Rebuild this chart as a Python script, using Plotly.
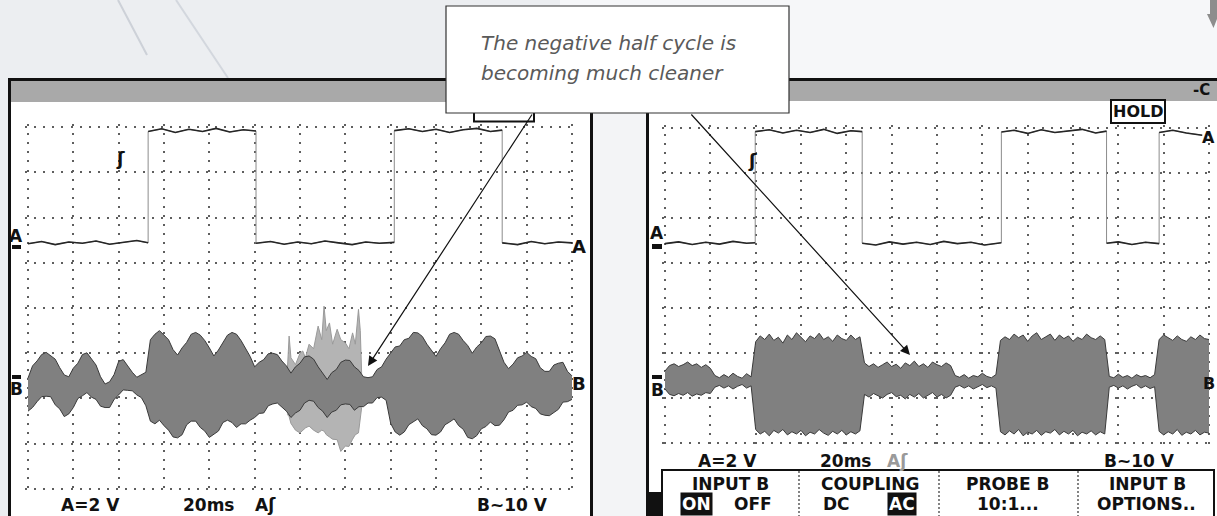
import plotly.graph_objects as go

W, H = 1217, 516

# ---------------- data (screen divisions) ----------------
b_time = [0.0, 0.1, 0.2, 0.3, 0.4, 0.5, 0.6, 0.7, 0.8, 0.9,
          1.0, 1.1, 1.2, 1.3, 1.4, 1.5, 1.6, 1.7, 1.8, 1.9,
          2.0, 2.1, 2.2, 2.3, 2.4, 2.5, 2.6, 2.7, 2.8, 2.9,
          3.0, 3.1, 3.2, 3.3, 3.4, 3.5, 3.6, 3.7, 3.8, 3.9,
          4.0, 4.1, 4.2, 4.3, 4.4, 4.5, 4.6, 4.7, 4.8, 4.9,
          5.0, 5.1, 5.2, 5.3, 5.4, 5.5, 5.6, 5.7, 5.8, 5.9,
          6.0, 6.1, 6.2, 6.3, 6.4, 6.5, 6.6, 6.7, 6.8, 6.9,
          7.0, 7.1, 7.2, 7.3, 7.4, 7.5, 7.6, 7.7, 7.8, 7.9,
          8.0, 8.1, 8.2, 8.3, 8.4, 8.5, 8.6, 8.7, 8.8, 8.9,
          9.0, 9.1, 9.2, 9.3, 9.4, 9.5, 9.6, 9.7, 9.8, 9.9,
          10.0, 10.1, 10.2, 10.3, 10.4, 10.5, 10.6, 10.7, 10.8, 10.9,
          11.0, 11.1, 11.2, 11.3, 11.4, 11.5, 11.6, 11.7, 11.8, 11.9,
          12.0]

left_b_upper = [2.45, 2.72, 2.83, 2.97, 3.02, 2.95, 2.87, 2.68, 2.52, 2.48,
                2.67, 2.78, 2.97, 3.01, 2.88, 2.74, 2.48, 2.32, 2.37, 2.53,
                2.82, 2.86, 2.72, 2.58, 2.47, 2.52, 2.58, 3.30, 3.42, 3.50,
                3.40, 3.30, 3.08, 2.96, 3.12, 3.24, 3.42, 3.46, 3.40, 3.28,
                3.12, 2.94, 3.07, 3.23, 3.40, 3.46, 3.42, 3.28, 3.12, 2.93,
                2.70, 2.80, 2.86, 2.99, 3.00, 2.97, 2.83, 2.72, 2.56, 2.70,
                2.78, 2.92, 2.94, 2.87, 2.70, 2.57, 2.42, 2.57, 2.64, 2.80,
                2.85, 2.84, 2.70, 2.62, 2.48, 2.46, 2.48, 2.64, 2.70, 2.87,
                3.00, 3.14, 3.16, 3.30, 3.33, 3.46, 3.45, 3.37, 3.20, 3.07,
                2.93, 3.10, 3.23, 3.42, 3.46, 3.42, 3.28, 3.17, 3.00, 3.14,
                3.23, 3.37, 3.38, 3.32, 3.08, 2.80, 2.66, 2.76, 2.90, 2.94,
                3.02, 2.93, 2.88, 2.68, 2.60, 2.60, 2.74, 2.78, 2.80, 2.60,
                2.50]
left_b_lower = [1.72, 1.80, 1.93, 2.04, 2.05, 2.04, 1.86, 1.77, 1.60, 1.66,
                1.80, 2.00, 2.06, 2.13, 2.03, 1.98, 1.83, 1.80, 1.80, 1.98,
                2.08, 2.19, 2.18, 2.17, 2.08, 2.02, 1.84, 1.50, 1.44, 1.52,
                1.40, 1.30, 1.15, 1.13, 1.20, 1.42, 1.50, 1.50, 1.36, 1.28,
                1.14, 1.22, 1.28, 1.47, 1.52, 1.47, 1.36, 1.44, 1.44, 1.52,
                1.58, 1.67, 1.68, 1.84, 1.88, 1.90, 1.80, 1.72, 1.58, 1.68,
                1.74, 1.90, 1.96, 1.94, 1.80, 1.72, 1.58, 1.70, 1.74, 1.86,
                1.88, 1.87, 1.74, 1.82, 1.82, 1.90, 1.90, 2.02, 2.03, 1.96,
                1.45, 1.26, 1.19, 1.26, 1.42, 1.48, 1.55, 1.40, 1.33, 1.20,
                1.19, 1.26, 1.42, 1.48, 1.55, 1.40, 1.32, 1.14, 1.11, 1.18,
                1.33, 1.38, 1.48, 1.40, 1.41, 1.53, 1.70, 1.74, 1.85, 1.86,
                1.92, 1.82, 1.78, 1.66, 1.63, 1.62, 1.70, 1.76, 1.92, 1.93,
                1.98]

# lighter over-written sweep with spikes (left screen)
left_spike_time = [5.72, 5.76, 5.80, 5.90, 6.00, 6.06, 6.12, 6.20, 6.30, 6.40, 6.48, 6.53,
                   6.58, 6.65, 6.72, 6.82, 6.90, 7.00, 7.08, 7.16, 7.22, 7.29, 7.33, 7.36]
left_spike_upper = [2.60, 3.38, 2.90, 2.75, 3.00, 3.05, 2.90, 3.20, 3.10, 3.60, 3.30, 4.04,
                    3.50, 3.67, 3.20, 3.53, 3.30, 3.23, 3.10, 3.45, 3.20, 3.97, 3.50, 2.55]
left_spike_lower = [1.65, 1.60, 1.45, 1.30, 1.24, 1.30, 1.35, 1.39, 1.30, 1.24, 1.30, 1.28,
                    1.20, 1.15, 1.10, 1.09, 0.83, 0.95, 0.94, 1.10, 1.20, 1.24, 1.50, 1.80]

left_a_time = [0.0, 0.3, 0.6, 0.9, 1.2, 1.5, 1.8, 2.1, 2.4, 2.65,
               2.65, 2.95, 3.25, 3.55, 3.85, 4.15, 4.45, 4.75, 5.03,
               5.03, 5.35, 5.65, 5.95, 6.25, 6.55, 6.85, 7.15, 7.45, 7.75, 8.08,
               8.08, 8.4, 8.7, 9.0, 9.3, 9.6, 9.9, 10.2, 10.46,
               10.46, 10.8, 11.1, 11.4, 11.7, 12.0]
left_a_level = [5.42, 5.47, 5.40, 5.46, 5.43, 5.48, 5.41, 5.45, 5.49, 5.44,
                7.90, 7.96, 7.88, 7.95, 7.90, 7.97, 7.89, 7.94, 7.91,
                5.43, 5.47, 5.41, 5.46, 5.42, 5.48, 5.44, 5.40, 5.46, 5.43, 5.45,
                7.92, 7.96, 7.90, 7.95, 7.88, 7.94, 7.97, 7.90, 7.93,
                5.44, 5.40, 5.47, 5.42, 5.46, 5.44]

right_b_upper = [2.60, 2.72, 2.76, 2.70, 2.74, 2.80, 2.72, 2.76, 2.68, 2.74,
                 2.66, 2.50, 2.45, 2.52, 2.46, 2.55, 2.48, 2.44, 2.54, 2.47,
                 3.25, 3.38, 3.30, 3.42, 3.28, 3.35, 3.22, 3.40, 3.30, 3.45,
                 3.35, 3.25, 3.38, 3.32, 3.44, 3.30, 3.36, 3.26, 3.40, 3.32,
                 3.28, 3.40, 3.30, 3.36, 2.78, 2.70, 2.76, 2.68, 2.74, 2.80,
                 2.70, 2.75, 2.66, 2.78, 2.72, 2.82, 2.70, 2.76, 2.68, 2.80,
                 2.74, 2.70, 2.78, 2.72, 2.50, 2.46, 2.52, 2.44, 2.50, 2.47,
                 2.55, 2.48, 2.45, 2.52, 3.28, 3.36, 3.30, 3.42, 3.34, 3.40,
                 3.26, 3.38, 3.45, 3.30, 3.36, 3.42, 3.28, 3.40, 3.32, 3.38,
                 3.26, 3.35, 3.30, 3.42, 3.34, 3.30, 3.38, 3.30, 2.48, 2.45,
                 2.53, 2.46, 2.50, 2.44, 2.52, 2.47, 2.50, 2.45, 2.52, 3.30,
                 3.40, 3.34, 3.28, 3.38, 3.30, 3.26, 3.36, 3.30, 3.40, 3.32,
                 3.30]
right_b_lower = [2.20, 2.08, 2.05, 2.10, 2.06, 2.12, 2.04, 2.09, 2.06, 2.12,
                 2.10, 2.24, 2.28, 2.22, 2.27, 2.20, 2.26, 2.30, 2.22, 2.27,
                 1.30, 1.20, 1.26, 1.16, 1.28, 1.22, 1.30, 1.18, 1.25, 1.20,
                 1.28, 1.16, 1.24, 1.20, 1.30, 1.22, 1.17, 1.26, 1.20, 1.28,
                 1.18, 1.25, 1.20, 1.27, 2.08, 2.02, 2.10, 2.05, 2.00, 2.08,
                 2.12, 2.03, 2.06, 1.98, 2.08, 2.02, 2.10, 2.00, 2.06, 2.12,
                 2.02, 2.08, 2.00, 2.06, 2.24, 2.28, 2.22, 2.27, 2.20, 2.25,
                 2.30, 2.23, 2.27, 2.22, 1.25, 1.18, 1.27, 1.20, 1.30, 1.16,
                 1.24, 1.20, 1.28, 1.17, 1.25, 1.22, 1.30, 1.18, 1.26, 1.20,
                 1.28, 1.16, 1.24, 1.20, 1.27, 1.18, 1.25, 1.20, 2.24, 2.28,
                 2.22, 2.27, 2.20, 2.26, 2.30, 2.22, 2.27, 2.21, 2.25, 1.26,
                 1.18, 1.25, 1.20, 1.30, 1.17, 1.24, 1.20, 1.28, 1.18, 1.24,
                 1.22]

right_a_time = [0.0, 0.3, 0.6, 0.9, 1.2, 1.5, 1.8, 1.99,
                1.99, 2.3, 2.6, 2.9, 3.2, 3.5, 3.8, 4.1, 4.35,
                4.35, 4.65, 4.95, 5.25, 5.55, 5.85, 6.15, 6.45, 6.75, 7.05, 7.42,
                7.42, 7.7, 8.0, 8.3, 8.6, 8.9, 9.2, 9.5, 9.74,
                9.74, 10.0, 10.3, 10.6, 10.9,
                10.9, 11.2, 11.5, 11.85]
right_a_level = [5.43, 5.47, 5.41, 5.46, 5.42, 5.48, 5.44, 5.45,
                 7.92, 7.96, 7.89, 7.95, 7.90, 7.97, 7.88, 7.94, 7.92,
                 5.44, 5.40, 5.47, 5.42, 5.46, 5.41, 5.48, 5.43, 5.46, 5.40, 5.45,
                 7.91, 7.95, 7.88, 7.96, 7.90, 7.94, 7.97, 7.89, 7.93,
                 5.44, 5.47, 5.41, 5.46, 5.43,
                 7.90, 7.95, 7.89, 7.84]

bottom_labels = ["A=2 V", "20ms", "A\u0283", "B~10 V"]
menu_top = ["INPUT B", "COUPLING", "PROBE B", "INPUT B"]
menu_bottom = ["OFF", "DC", "10:1...", "OPTIONS.."]
menu_inverted = ["ON", "AC"]
callout_lines = ["The negative half cycle is", "becoming much cleaner"]

# ---------------- helpers ----------------
def px(x):
    return x / W

def py(y):
    return 1 - y / H

MONO = "DejaVu Sans"
BAND_FILL = "#808080"
BAND_EDGE = "#3a3a3a"

def split_levels(t, v):
    xs, ys = [], []
    for i in range(len(t)):
        xs.append(t[i]); ys.append(v[i])
        if i + 1 < len(t) and t[i + 1] == t[i]:
            xs.append(None); ys.append(None)
    return xs, ys

fig = go.Figure()

def band(t, lo, hi, xa, ya, fill, edge):
    fig.add_trace(go.Scatter(x=t, y=lo, mode="lines", line=dict(color=edge, width=1),
                             xaxis=xa, yaxis=ya, showlegend=False, hoverinfo="skip"))
    fig.add_trace(go.Scatter(x=t, y=hi, mode="lines", line=dict(color=edge, width=1),
                             fill="tonexty", fillcolor=fill,
                             xaxis=xa, yaxis=ya, showlegend=False, hoverinfo="skip"))

def square(t, v, xa, ya):
    fig.add_trace(go.Scatter(x=t, y=v, mode="lines", line=dict(color="#8c8c8c", width=1),
                             xaxis=xa, yaxis=ya, showlegend=False, hoverinfo="skip"))
    sx, sy = split_levels(t, v)
    fig.add_trace(go.Scatter(x=sx, y=sy, mode="lines", line=dict(color="#262626", width=1.6),
                             connectgaps=False,
                             xaxis=xa, yaxis=ya, showlegend=False, hoverinfo="skip"))

# left screen
band(left_spike_time, left_spike_lower, left_spike_upper, "x", "y", "#b4b4b4", "#9a9a9a")
band(b_time, left_b_lower, left_b_upper, "x", "y", BAND_FILL, BAND_EDGE)
square(left_a_time, left_a_level, "x", "y")
# right screen
band(b_time, right_b_lower, right_b_upper, "x2", "y2", BAND_FILL, BAND_EDGE)
square(right_a_time, right_a_level, "x2", "y2")

grid_kw = dict(showgrid=True, gridcolor="#5e5e5e", gridwidth=2, griddash="2px,7.05px",
               zeroline=False, showticklabels=False, ticks="", showline=False,
               dtick=1, tick0=0, fixedrange=True)
EPS = 0.06  # range padding (divisions) so the edge grid lines are kept

# ---------------- shapes ----------------
shapes = []

def rect(x0, y0, x1, y1, fill="rgba(0,0,0,0)", line="rgba(0,0,0,0)", lw=0, layer="below"):
    shapes.append(dict(type="rect", xref="paper", yref="paper",
                       x0=px(x0), x1=px(x1), y0=py(y1), y1=py(y0),
                       fillcolor=fill, line=dict(color=line, width=lw), layer=layer))

def seg(x0, y0, x1, y1, color, lw, dash="solid", layer="below"):
    shapes.append(dict(type="line", xref="paper", yref="paper",
                       x0=px(x0), x1=px(x1), y0=py(y0), y1=py(y1),
                       line=dict(color=color, width=lw, dash=dash), layer=layer))

# background tones
rect(560, 0, 1217, 78, fill="#f6f7f9")
rect(593, 78, 647, 516, fill="#f3f4f6")
seg(118, 0, 147, 55, "#cdd1d8", 2)
seg(176, 0, 228, 78, "#d3d7de", 2)

# left screen
rect(9.5, 79.5, 591.5, 540, fill="white", line="#111111", lw=3)
rect(11, 81, 590, 102, fill="#a9a9a9")
# right screen
rect(647.5, 79.5, 1240, 540, fill="white", line="#111111", lw=3)
rect(649, 81, 1240, 101, fill="#a9a9a9")
rect(646, 492, 661, 516, fill="#111111")
rect(662, 470, 1214, 530, fill="white", line="#111111", lw=2)
for sx in [799, 939, 1078]:
    seg(sx, 471, sx, 516, "#333333", 1.2, dash="2px,2px")

# side level markers (dashes)
rect(12, 245, 21, 249, fill="#111111")
rect(12, 375, 21, 379, fill="#111111")
rect(652, 244, 662, 249, fill="#111111")
rect(652, 375, 662, 379, fill="#111111")

# top-right grey arrow
arrow_pts = [(1210, 0), (1217, 0), (1217, 14), (1219, 14), (1213.5, 28), (1207, 14), (1210, 14)]
path = "M " + " L ".join(f"{px(a):.5f},{py(b):.5f}" for a, b in arrow_pts) + " Z"
shapes.append(dict(type="path", xref="paper", yref="paper", path=path,
                   fillcolor="#8d8d8d", line=dict(width=0), layer="above"))

# hidden HOLD box (left) and callout box on top
rect(474, 104, 534, 121.5, fill="white", line="#111111", lw=2, layer="above")
rect(446, 6, 789, 113, fill="white", line="#333333", lw=1.2, layer="above")

# ---------------- annotations ----------------
ann = []

def label(text, x, y, size=17, color="#111111", xanchor="center", bold=True, bg=None,
          family=MONO, pad=0):
    d = dict(x=px(x), y=py(y), xref="paper", yref="paper",
             text=f"<b>{text}</b>" if bold else text, showarrow=False,
             font=dict(family=family, size=size, color=color),
             xanchor=xanchor, yanchor="middle", borderpad=pad)
    if bg:
        d["bgcolor"] = bg
    ann.append(d)

# left screen labels
label("A", 16, 236, size=17)
label("A", 579, 247, size=18)
label("B", 16, 389, size=17)
label("B", 579, 383, size=18)
label("\u0283", 120, 158, size=18)
for t, x in zip(bottom_labels, [90, 209, 265, 512]):
    label(t, x, 505, size=17)

# right screen labels
label("A", 657, 233, size=17)
label("A", 1216, 137, size=16, xanchor="right")
label("B", 657, 390, size=17)
label("B", 1216, 383, size=16, xanchor="right")
label("\u0283", 752, 160, size=18)
label("-C", 1201, 90, size=15)
ann.append(dict(x=px(1138), y=py(112), xref="paper", yref="paper", text="<b>HOLD</b>",
                showarrow=False, font=dict(family=MONO, size=16, color="#111111"),
                bgcolor="white", bordercolor="#111111", borderwidth=2, borderpad=1,
                xanchor="center", yanchor="middle"))
for t, x, c in zip(bottom_labels, [727, 846, 898, 1139],
                   ["#111111", "#111111", "#9a9a9a", "#111111"]):
    label(t, x, 461, size=17, color=c)
for t, x in zip(menu_top, [730, 870, 1007, 1147]):
    label(t, x, 484, size=17)
for t, x in zip(menu_bottom, [753, 836, 1008, 1146]):
    label(t, x, 504, size=17)
for t, x in zip(menu_inverted, [696, 902]):
    label(t, x, 504, size=17, color="white", bg="#111111", pad=1)

# callout text
for t, y in zip(callout_lines, [43, 73]):
    ann.append(dict(x=px(479), y=py(y), xref="paper", yref="paper",
                    text=f"<i>{t}</i>", showarrow=False,
                    font=dict(family="DejaVu Sans", size=20, color="#5a5a5a"),
                    xanchor="left", yanchor="middle"))

# arrows from callout
for (hx, hy), (tx, ty) in [((368, 366), (533, 113)), ((910, 355), (690, 113))]:
    ann.append(dict(x=px(hx), y=py(hy), xref="paper", yref="paper", text="",
                    showarrow=True, ax=tx - hx, ay=ty - hy,
                    arrowhead=2, arrowsize=1.6, arrowwidth=1.2, arrowcolor="#111111",
                    standoff=0))

dx = EPS * 544 / 12     # pixels per division horizontally
dyl = EPS * 362 / 8     # left screen vertical
dyr = EPS * 315 / 7     # right screen vertical
fig.update_layout(
    width=W, height=H, autosize=False,
    margin=dict(l=0, r=0, t=0, b=0),
    paper_bgcolor="#eceef1", plot_bgcolor="rgba(0,0,0,0)",
    showlegend=False,
    xaxis=dict(domain=[px(28 - dx), px(572 + dx)], range=[-EPS, 12 + EPS], anchor="y", **grid_kw),
    yaxis=dict(domain=[py(489 + dyl), py(127 - dyl)], range=[-EPS, 8 + EPS], anchor="x", **grid_kw),
    xaxis2=dict(domain=[px(665 - dx), px(1209 + dx)], range=[-EPS, 12 + EPS], anchor="y2", **grid_kw),
    yaxis2=dict(domain=[py(443 + dyr), py(128 - dyr)], range=[1 - EPS, 8 + EPS], anchor="x2", **grid_kw),
    shapes=shapes,
    annotations=ann,
)

fig.write_html("out.html", config={"displayModeBar": False, "staticPlot": True},
               post_script="document.body.style.margin='0';document.body.style.overflow='hidden';")
